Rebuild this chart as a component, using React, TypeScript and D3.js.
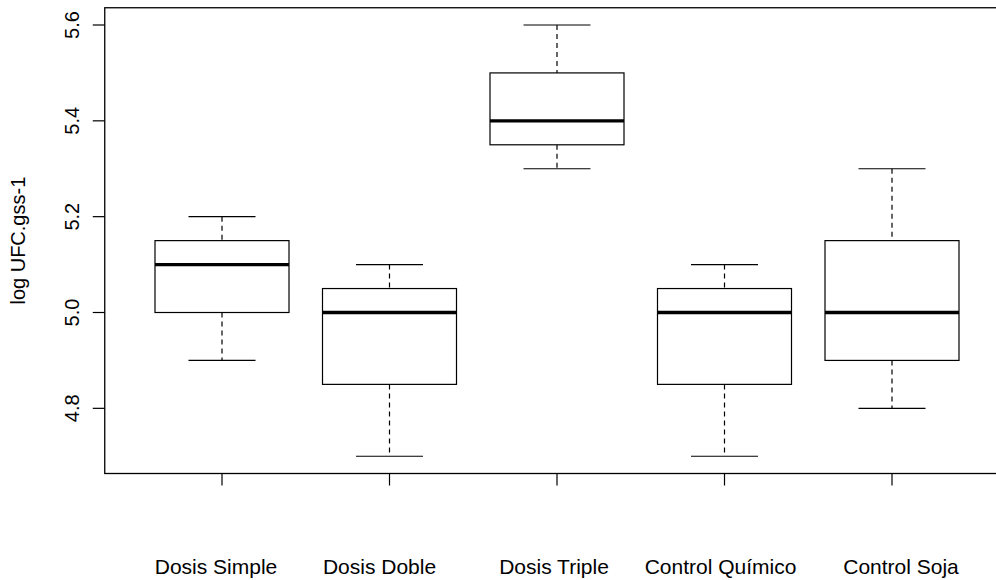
import React from "react";
import * as d3 from "d3";

const categories = ["Dosis Simple", "Dosis Doble", "Dosis Triple", "Control Químico", "Control Soja"];
const lowerWhisker = [4.9, 4.7, 5.3, 4.7, 4.8];
const q1 = [5.0, 4.85, 5.35, 4.85, 4.9];
const medians = [5.1, 5.0, 5.4, 5.0, 5.0];
const q3 = [5.15, 5.05, 5.5, 5.05, 5.15];
const upperWhisker = [5.2, 5.1, 5.6, 5.1, 5.3];
const yTicks = [4.8, 5.0, 5.2, 5.4, 5.6];
const yTickLabels = ["4.8", "5.0", "5.2", "5.4", "5.6"];
const yLabel = "log UFC.gss-1";

// horizontal nudge of the category labels relative to their ticks (px)
const labelShift = [-6, -10, -3, -4, 9];

const W = 996;
const H = 580;
const FONT = "'Liberation Sans', Arial, Helvetica, sans-serif";

export default function App() {
  const x = d3.scaleLinear().domain([0.3, 5.7]).range([104.75, 1009.25]);
  const y = d3.scaleLinear().domain([4.664, 5.636]).range([473.5, 7.75]);
  const unit = x(2) - x(1);
  const boxHalf = 0.4 * unit;
  const capHalf = 0.2 * unit;
  const [x0, x1] = x.range();
  const [yb, yt] = y.range();

  return (
    <svg
      width={W}
      height={H}
      style={{ position: "absolute", left: 0, top: 0, background: "#fff" }}
      xmlns="http://www.w3.org/2000/svg"
    >
      <rect x={0} y={0} width={W} height={H} fill="#fff" />
      {categories.map((c, i) => {
        const cx = x(i + 1);
        return (
          <g key={c} stroke="#000" fill="none">
            <line x1={cx} x2={cx} y1={y(upperWhisker[i])} y2={y(q3[i])} strokeWidth={1.2} strokeDasharray="5,4" />
            <line x1={cx} x2={cx} y1={y(q1[i])} y2={y(lowerWhisker[i])} strokeWidth={1.2} strokeDasharray="5,4" />
            <line x1={cx - capHalf} x2={cx + capHalf} y1={y(upperWhisker[i])} y2={y(upperWhisker[i])} strokeWidth={1.2} />
            <line x1={cx - capHalf} x2={cx + capHalf} y1={y(lowerWhisker[i])} y2={y(lowerWhisker[i])} strokeWidth={1.2} />
            <rect
              x={cx - boxHalf}
              y={y(q3[i])}
              width={2 * boxHalf}
              height={y(q1[i]) - y(q3[i])}
              strokeWidth={1.2}
              fill="#fff"
            />
            <line x1={cx - boxHalf} x2={cx + boxHalf} y1={y(medians[i])} y2={y(medians[i])} strokeWidth={3.4} />
          </g>
        );
      })}
      <rect x={x0} y={yt} width={x1 - x0} height={yb - yt} fill="none" stroke="#000" strokeWidth={1.3} />
      {yTicks.map((t, i) => (
        <g key={t}>
          <line x1={x0 - 12} x2={x0} y1={y(t)} y2={y(t)} stroke="#000" strokeWidth={1.2} />
          <text
            transform={`translate(${79},${y(t)}) rotate(-90)`}
            textAnchor="middle"
            fontFamily={FONT}
            fontSize={20}
            fill="#000"
          >
            {yTickLabels[i]}
          </text>
        </g>
      ))}
      {categories.map((c, i) => (
        <g key={c}>
          <line x1={x(i + 1)} x2={x(i + 1)} y1={yb} y2={yb + 12} stroke="#000" strokeWidth={1.2} />
          <text
            x={x(i + 1) + labelShift[i]}
            y={574}
            textAnchor="middle"
            fontFamily={FONT}
            fontSize={21}
            fill="#000"
          >
            {c}
          </text>
        </g>
      ))}
      <text
        transform={`translate(${25},${(yt + yb) / 2}) rotate(-90)`}
        textAnchor="middle"
        fontFamily={FONT}
        fontSize={20}
        fill="#000"
      >
        {yLabel}
      </text>
    </svg>
  );
}
